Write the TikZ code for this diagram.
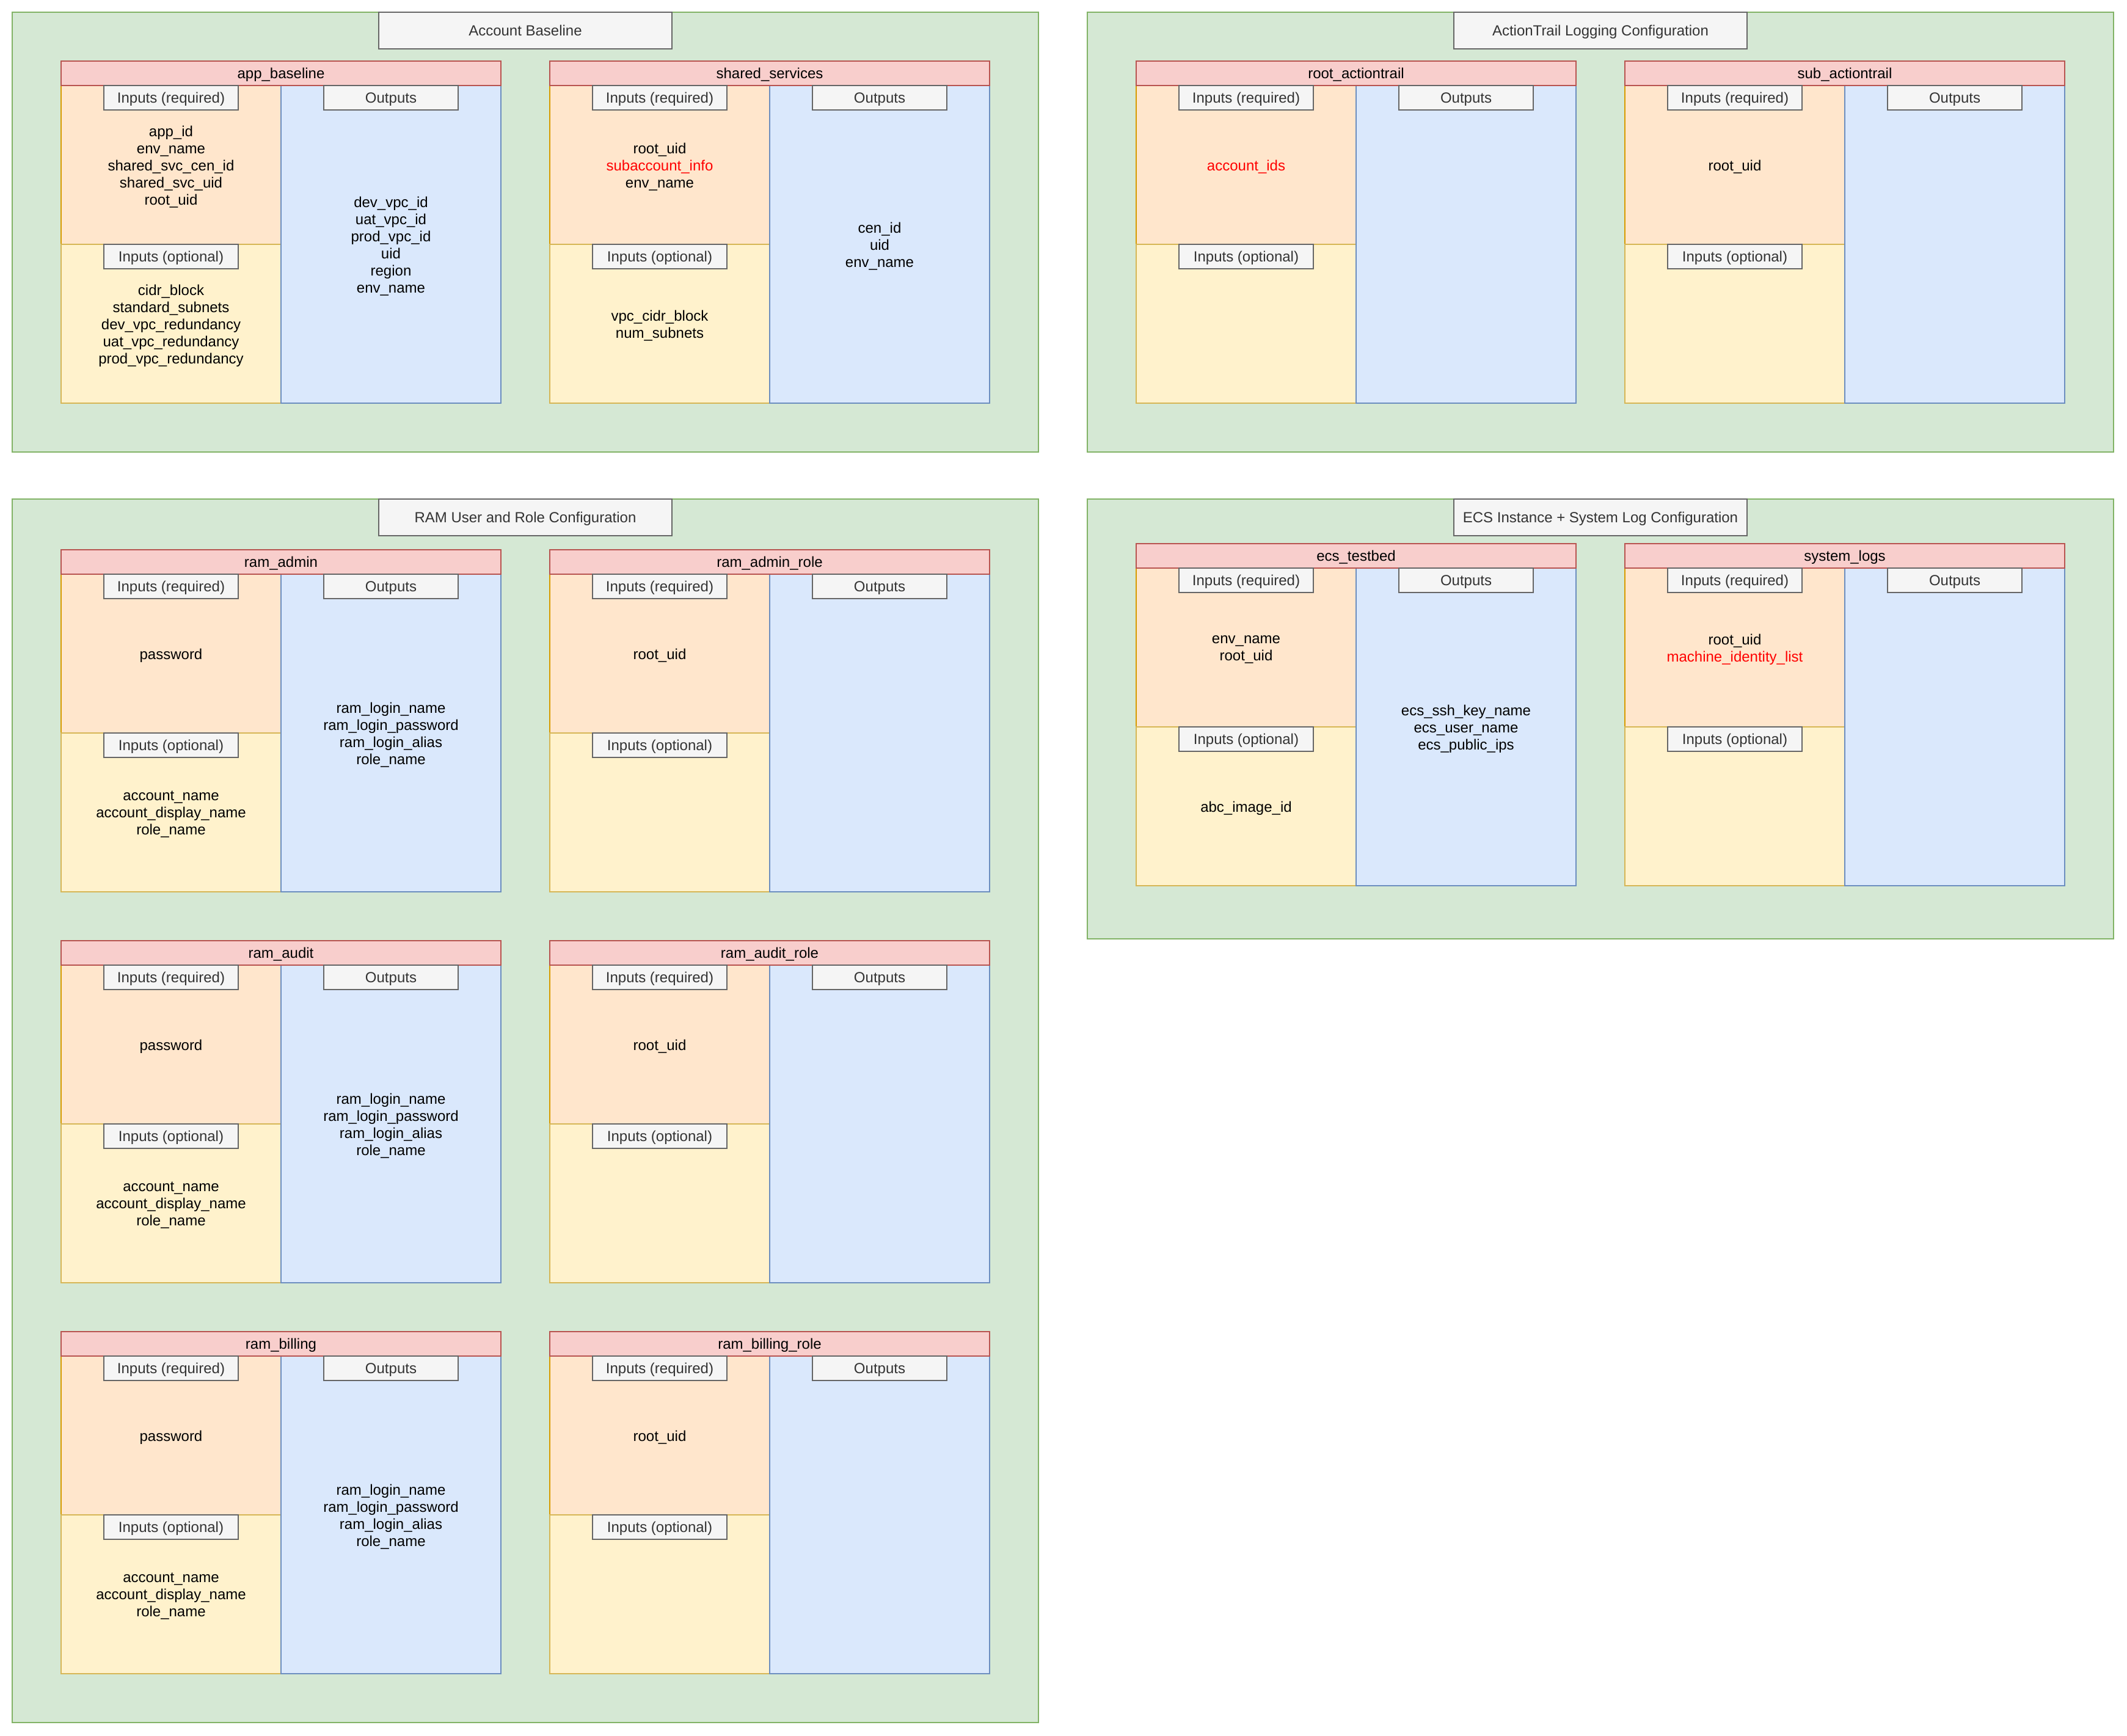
\documentclass[tikz,border=0pt]{standalone}
\usepackage{fontspec}
\setmainfont{Liberation Sans}

\definecolor{grpfill}{HTML}{D5E8D4}
\definecolor{grpline}{HTML}{82B366}
\definecolor{hdrfill}{HTML}{F8CECC}
\definecolor{hdrline}{HTML}{B85450}
\definecolor{reqfill}{HTML}{FFE6CC}
\definecolor{reqline}{HTML}{D79B00}
\definecolor{optfill}{HTML}{FFF2CC}
\definecolor{optline}{HTML}{D6B656}
\definecolor{outfill}{HTML}{DAE8FC}
\definecolor{outline}{HTML}{6C8EBF}
\definecolor{tagfill}{HTML}{F5F5F5}
\definecolor{tagline}{HTML}{666666}
\definecolor{tagtext}{HTML}{333333}
\definecolor{idred}{HTML}{FF0000}

\newcommand{\req}[1]{{\color{idred}#1}}

% #1 name, #2 title, #3 x, #4 y, #5 required, #6 optional, #7 outputs
\newcommand{\tfmodule}[7]{%
        \node[reqpart] (#1-req) at (#3, #4 + 20) {};
        \node[optpart] (#1-opt) at (#3, #4 + 150) {};
        \node[outpart] (#1-out) at (#3 + 180, #4 + 20) {};
        \node[modhead] (#1) at (#3, #4) {#2};
        \node[tagbox] (#1-reqtag) at (#1-req.north) {Inputs (required)};
        \node[tagbox] (#1-opttag) at (#1-opt.north) {Inputs (optional)};
        \node[tagbox] (#1-outtag) at (#1-out.north) {Outputs};
        \node[listtext] (#1-reqtxt) at (#1-req.center) {#5};
        \node[listtext] (#1-opttxt) at (#1-opt.center) {#6};
        \node[listtext] (#1-outtxt) at (#1-out.center) {#7};
}

\begin{document}
\begin{tikzpicture}[x=1pt, y=-1pt, line width=1pt,
        font=\fontsize{12}{14}\selectfont,
        box/.style={draw, inner sep=0pt, outer sep=0pt, anchor=north west, text depth=0pt},
        group/.style={box, fill=grpfill, draw=grpline, minimum width=840pt},
        grouptitle/.style={draw=tagline, fill=tagfill, text=tagtext, inner sep=0pt, outer sep=0pt,
                anchor=north, minimum width=240pt, minimum height=30pt, text depth=0pt},
        modhead/.style={box, fill=hdrfill, draw=hdrline, minimum width=360pt, minimum height=20pt},
        reqpart/.style={box, fill=reqfill, draw=reqline, minimum width=180pt, minimum height=130pt},
        optpart/.style={box, fill=optfill, draw=optline, minimum width=180pt, minimum height=130pt},
        outpart/.style={box, fill=outfill, draw=outline, minimum width=180pt, minimum height=260pt},
        tagbox/.style={draw=tagline, fill=tagfill, text=tagtext, inner sep=0pt, outer sep=0pt,
                anchor=north, minimum width=110pt, minimum height=20pt, text depth=0pt},
        listtext/.style={align=center, inner sep=0pt, yshift=-1.5pt}]

        \useasboundingbox (0, 0) rectangle (1741, 1421);

        \node[group, minimum height=360pt] (baseline) at (10, 10) {};
        \node[grouptitle] (baseline-title) at (baseline.north) {Account Baseline};
        \tfmodule{app}{app\_baseline}{50}{50}
                {app\_id\\env\_name\\shared\_svc\_cen\_id\\shared\_svc\_uid\\root\_uid}
                {cidr\_block\\standard\_subnets\\dev\_vpc\_redundancy\\uat\_vpc\_redundancy\\prod\_vpc\_redundancy}
                {dev\_vpc\_id\\uat\_vpc\_id\\prod\_vpc\_id\\uid\\region\\env\_name}
        \tfmodule{shared}{shared\_services}{450}{50}
                {root\_uid\\\req{subaccount\_info}\\env\_name}
                {vpc\_cidr\_block\\num\_subnets}
                {cen\_id\\uid\\env\_name}

        \node[group, minimum height=360pt] (trail) at (890, 10) {};
        \node[grouptitle] (trail-title) at (trail.north) {ActionTrail Logging Configuration};
        \tfmodule{roottrail}{root\_actiontrail}{930}{50}
                {\req{account\_ids}}{}{}
        \tfmodule{subtrail}{sub\_actiontrail}{1330}{50}
                {root\_uid}{}{}

        \node[group, minimum height=1001.5pt] (ram) at (10, 408.5) {};
        \node[grouptitle] (ram-title) at (ram.north) {RAM User and Role Configuration};
        \tfmodule{admin}{ram\_admin}{50}{450}
                {password}
                {account\_name\\account\_display\_name\\role\_name}
                {ram\_login\_name\\ram\_login\_password\\ram\_login\_alias\\role\_name}
        \tfmodule{adminrole}{ram\_admin\_role}{450}{450}
                {root\_uid}{}{}
        \tfmodule{audit}{ram\_audit}{50}{770}
                {password}
                {account\_name\\account\_display\_name\\role\_name}
                {ram\_login\_name\\ram\_login\_password\\ram\_login\_alias\\role\_name}
        \tfmodule{auditrole}{ram\_audit\_role}{450}{770}
                {root\_uid}{}{}
        \tfmodule{billing}{ram\_billing}{50}{1090}
                {password}
                {account\_name\\account\_display\_name\\role\_name}
                {ram\_login\_name\\ram\_login\_password\\ram\_login\_alias\\role\_name}
        \tfmodule{billingrole}{ram\_billing\_role}{450}{1090}
                {root\_uid}{}{}

        \node[group, minimum height=360pt] (ecs) at (890, 408.5) {};
        \node[grouptitle] (ecs-title) at (ecs.north) {ECS Instance + System Log Configuration};
        \tfmodule{testbed}{ecs\_testbed}{930}{445}
                {env\_name\\root\_uid}
                {abc\_image\_id}
                {ecs\_ssh\_key\_name\\ecs\_user\_name\\ecs\_public\_ips}
        \tfmodule{syslogs}{system\_logs}{1330}{445}
                {root\_uid\\\req{machine\_identity\_list}}{}{}
\end{tikzpicture}
\end{document}
